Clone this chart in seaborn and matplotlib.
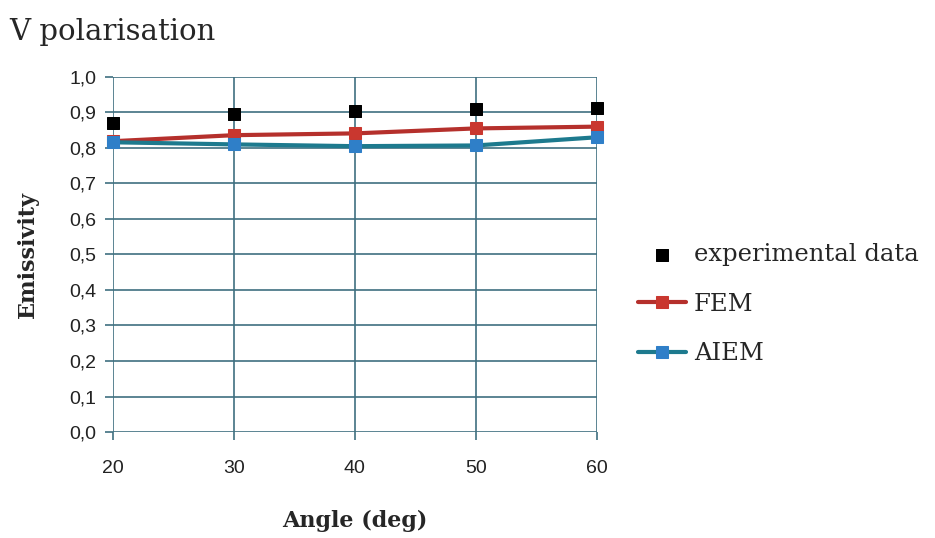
import matplotlib
matplotlib.use("Agg")
import matplotlib.pyplot as plt
import seaborn as sns
import pandas as pd
from matplotlib.ticker import FuncFormatter, MultipleLocator

angles = [20, 30, 40, 50, 60]
experimental = [0.871, 0.895, 0.903, 0.910, 0.912]
fem = [0.819, 0.836, 0.841, 0.855, 0.860]
aiem = [0.816, 0.810, 0.805, 0.807, 0.830]

sns.set_theme(style="white")
plt.rcParams['font.family'] = ['DejaVu Serif']

grid_c = '#3f6f80'
fig = plt.figure(figsize=(9.35, 5.38), dpi=100)
ax = fig.add_axes([0.121, 0.197, 0.517, 0.66])

df_exp = pd.DataFrame({'angle': angles, 'val': experimental})
df_fem = pd.DataFrame({'angle': angles, 'val': fem})
df_aiem = pd.DataFrame({'angle': angles, 'val': aiem})

sns.lineplot(data=df_fem, x='angle', y='val', ax=ax, color='#b5302c', lw=3,
             marker='s', markersize=8, markerfacecolor='#c9372f', markeredgecolor='#c9372f',
             label='FEM', zorder=4, clip_on=False)
sns.lineplot(data=df_aiem, x='angle', y='val', ax=ax, color='#1d7a8e', lw=3,
             marker='s', markersize=8, markerfacecolor='#2f7fc8', markeredgecolor='#2f7fc8',
             label='AIEM', zorder=5, clip_on=False)
sns.scatterplot(data=df_exp, x='angle', y='val', ax=ax, color='black', marker='s',
                s=80, edgecolor='black', label='experimental data', zorder=6, clip_on=False)

ax.set_xlim(20, 60)
ax.set_ylim(0, 1.0)
ax.xaxis.set_major_locator(MultipleLocator(10))
ax.yaxis.set_major_locator(MultipleLocator(0.1))
ax.yaxis.set_major_formatter(FuncFormatter(lambda v, p: f"{v:.1f}".replace('.', ',')))
ax.grid(True, color=grid_c, lw=1.2)
for s in ax.spines.values():
    s.set_visible(False)
ax.tick_params(axis='both', length=6, color=grid_c, width=1.2, direction='out',
               labelsize=14, pad=6, left=True, bottom=True)
for lab in ax.get_xticklabels() + ax.get_yticklabels():
    lab.set_family(['Liberation Sans', 'DejaVu Sans'])
    lab.set_color('#222222')
ax.tick_params(axis='x', pad=14)

ax.set_xlabel('Angle (deg)', fontsize=16, fontweight='bold', labelpad=24)
ax.set_ylabel('Emissivity', fontsize=16, fontweight='bold', labelpad=22)
fig.text(0.01, 0.94, 'V polarisation', fontsize=21, ha='left', va='center')

h, l = ax.get_legend_handles_labels()
order = [l.index('experimental data'), l.index('FEM'), l.index('AIEM')]
ax.legend([h[i] for i in order], [l[i] for i in order], loc='center left',
          bbox_to_anchor=(1.04, 0.36), frameon=False, fontsize=17.5,
          labelspacing=1.1, handlelength=2.0, handletextpad=0.3)

fig.savefig('out.png', dpi=100)
